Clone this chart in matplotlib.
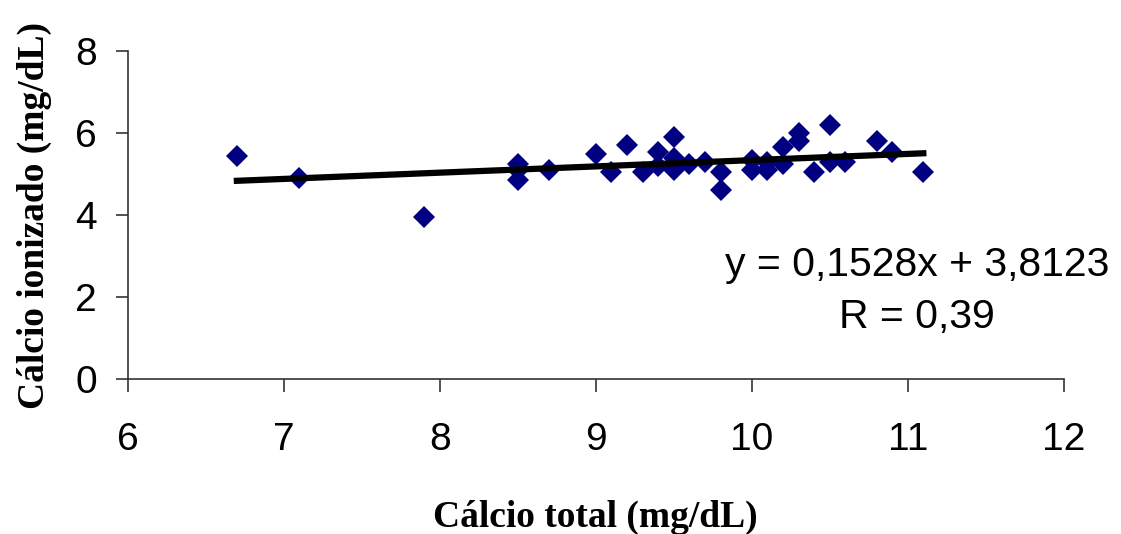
import numpy as np
import matplotlib.pyplot as plt

# values
calcio_total = [6.7, 7.1, 7.9, 8.5, 8.5, 8.5, 8.7, 9.0, 9.1, 9.2, 9.3, 9.4, 9.4,
                9.5, 9.5, 9.5, 9.6, 9.7, 9.8, 9.8, 10.0, 10.0, 10.1, 10.1, 10.2,
                10.2, 10.3, 10.3, 10.4, 10.5, 10.5, 10.6, 10.8, 10.9, 11.1]
calcio_ionizado = [5.45, 4.9, 3.95, 5.25, 5.1, 4.85, 5.1, 5.5, 5.05, 5.7, 5.05, 5.55, 5.2,
                   5.9, 5.4, 5.1, 5.25, 5.3, 5.05, 4.6, 5.35, 5.1, 5.3, 5.1, 5.65,
                   5.25, 6.0, 5.8, 5.05, 6.2, 5.3, 5.3, 5.8, 5.55, 5.05]
slope = 0.1528
intercept = 3.8123
eq_text = "y = 0,1528x + 3,8123"
r_text = "R = 0,39"
x_ticks = [6, 7, 8, 9, 10, 11, 12]
y_ticks = [0, 2, 4, 6, 8]

fig = plt.figure(figsize=(11.21, 5.34), dpi=100)
ax = fig.add_axes([0.1139, 0.2908, 0.835, 0.6131])

ax.plot(calcio_total, calcio_ionizado, linestyle="none", marker="D",
        markersize=11, color="#000080", markeredgewidth=0, zorder=2)

xfit = np.array([min(calcio_total), max(calcio_total)])
ax.plot(xfit, slope * xfit + intercept, color="black", linewidth=4.5, zorder=3)

ax.text(11.06, 2.78, eq_text, ha="center", va="center", fontsize=29.5,
        family="Liberation Sans")
ax.text(11.06, 1.51, r_text, ha="center", va="center", fontsize=29.5,
        family="Liberation Sans")

ax.set_xlim(6, 12)
ax.set_ylim(0, 8)
ax.set_xticks(x_ticks)
ax.set_yticks(y_ticks)
for s in ["top", "right"]:
    ax.spines[s].set_visible(False)
for s in ["left", "bottom"]:
    ax.spines[s].set_color("#333333")
    ax.spines[s].set_linewidth(1.2)
ax.tick_params(axis="both", direction="out", length=9, width=1.2, color="#333333")
ax.tick_params(axis="x", pad=22)
ax.tick_params(axis="y", pad=13)
for lab in ax.get_xticklabels() + ax.get_yticklabels():
    lab.set_family("Liberation Sans")
    lab.set_fontsize(28)

ax.set_xlabel("Cálcio total (mg/dL)", family="Liberation Serif", fontweight="bold",
              fontsize=27, labelpad=30)
ax.set_ylabel("Cálcio ionizado (mg/dL)", family="Liberation Serif", fontweight="bold",
              fontsize=27, labelpad=17)

fig.savefig("out.png", dpi=100)
